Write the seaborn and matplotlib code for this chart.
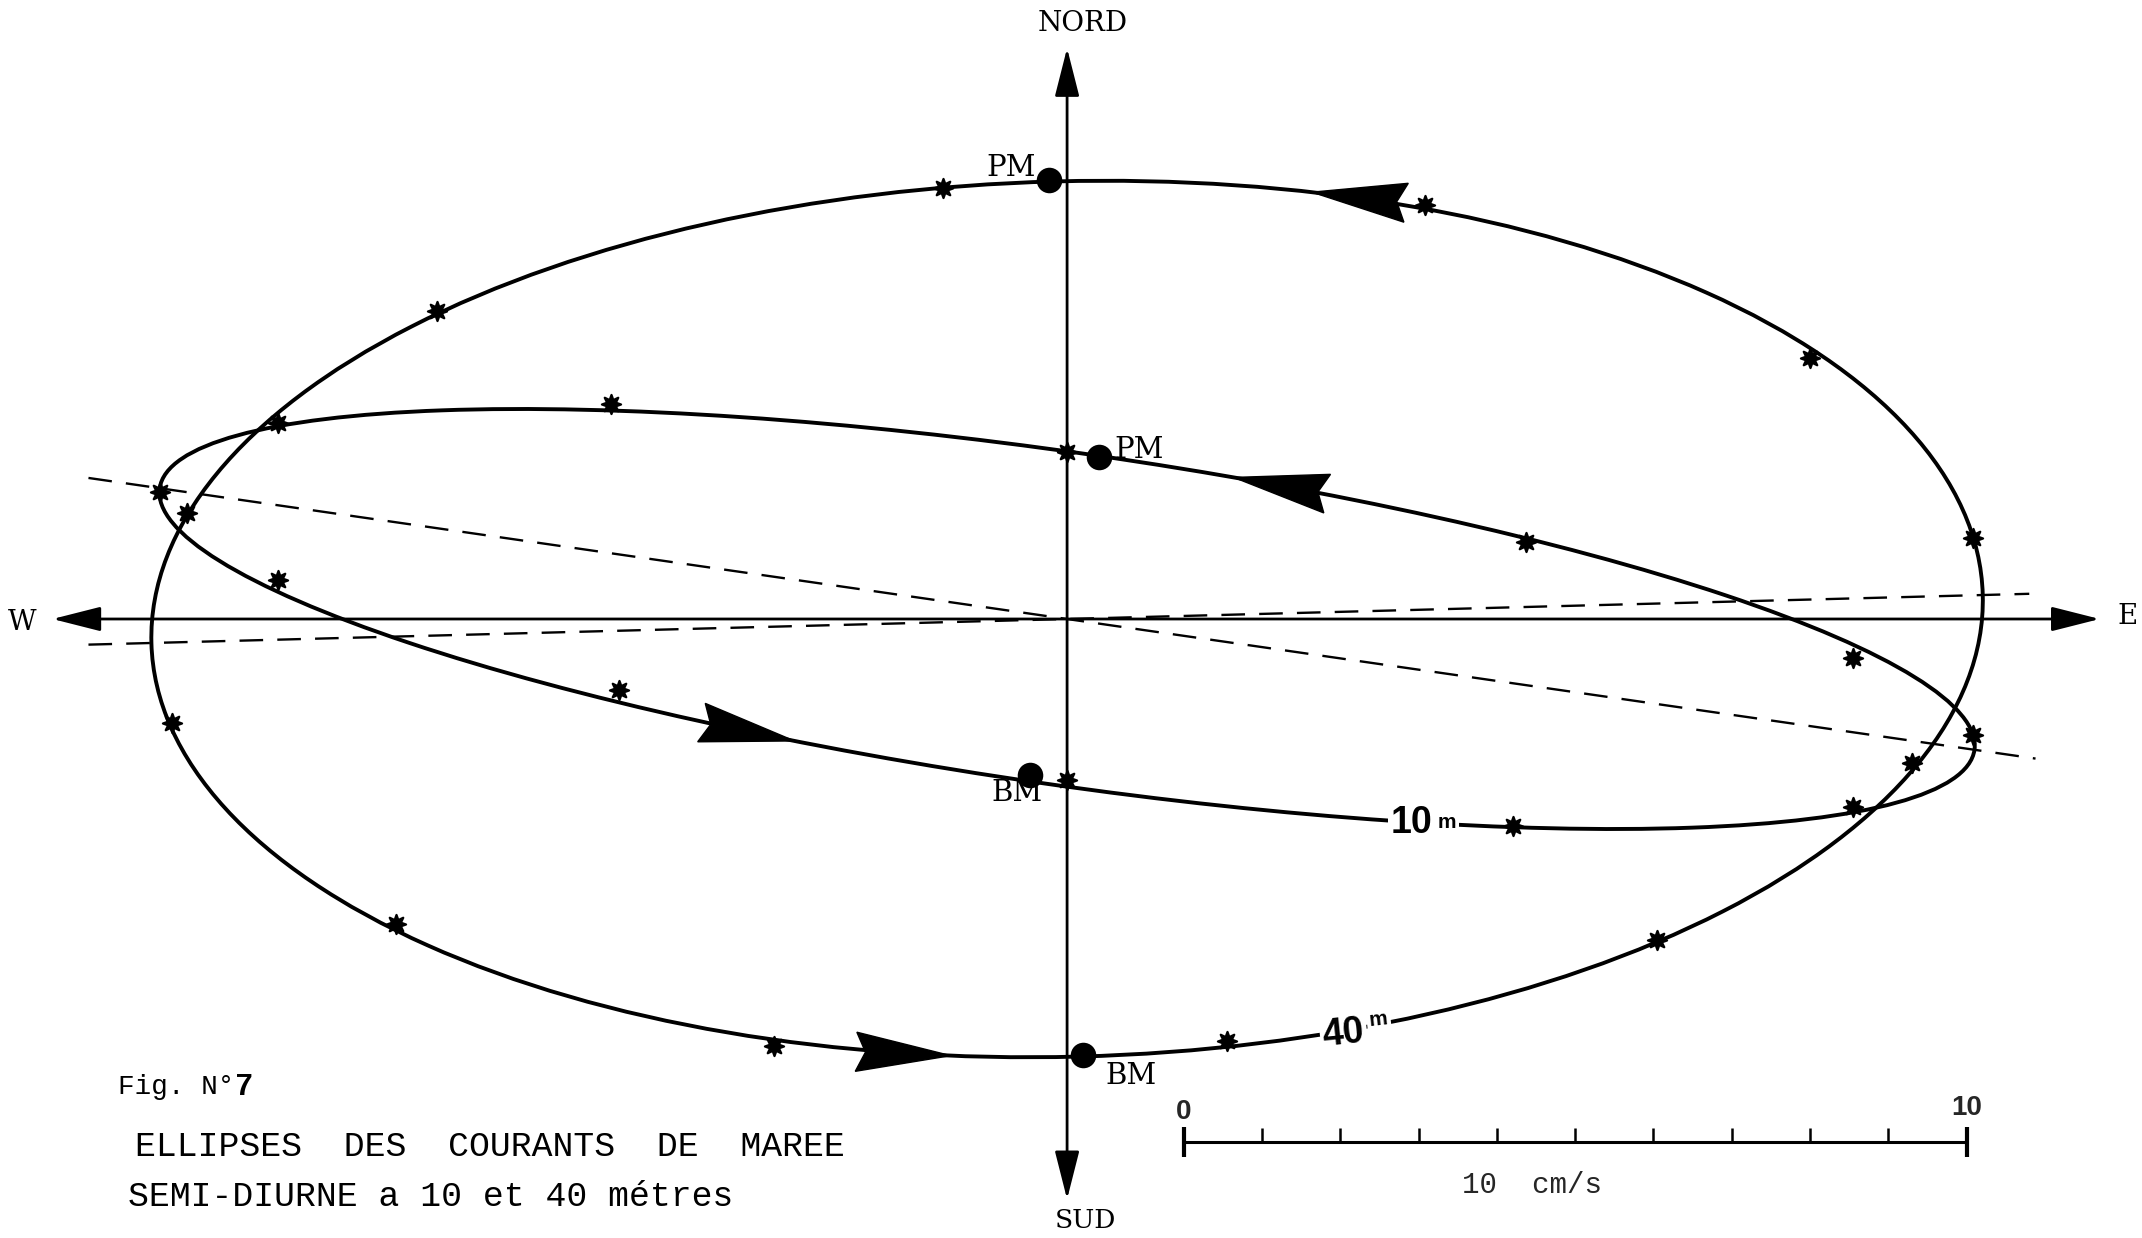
import numpy as np
import pandas as pd
import seaborn as sns
from matplotlib import pyplot as plt
from matplotlib.patches import Ellipse, Polygon

# tidal ellipse parameters (cm/s, degrees from east)
depths = ["10m", "40m"]
semi_major = [11.71, 11.70]
semi_minor = [2.12, 5.59]
inclination = [-8.2, 1.5]
# extent of the dashed major axis (east component, cm/s)
axis_from = [-12.5, -12.5]
axis_to = [12.37, 12.29]

# hourly current vectors, u east / v north (cm/s)
u_10m = [-11.58, -10.08, -5.83, 0.0, 5.86, 10.04, 11.57, 10.04, 5.69, 0.0, -5.72, -10.08]
v_10m = [1.62, 2.50, 2.74, 2.13, 0.98, -0.50, -1.48, -2.40, -2.64, -2.06, -0.91, 0.50]
u_40m = [-1.59, 4.57, 9.49, 11.57, 10.79, 7.54, 2.04, -3.75, -8.57, -11.43, -11.24, -8.05]
v_40m = [5.50, 5.29, 3.33, 1.03, -1.84, -4.10, -5.39, -5.45, -3.89, -1.33, 1.35, 3.93]

# high water (PM) and low water (BM) currents
pm_u = [0.41, -0.23]
pm_v = [2.07, 5.61]
bm_u = [-0.47, 0.20]
bm_v = [-1.99, -5.57]

# where the direction arrows sit (approx. tip), per depth
arrow_u = [[2.12, -3.31], [3.15, -1.49]]
arrow_v = [[1.80, -1.48], [5.49, -5.59]]

scale_ticks = [0, 1, 2, 3, 4, 5, 6, 7, 8, 9, 10]

hourly = pd.DataFrame({
    "u": u_10m + u_40m,
    "v": v_10m + v_40m,
    "depth": ["10m"] * len(u_10m) + ["40m"] * len(u_40m),
})
tides = pd.DataFrame({"u": pm_u + bm_u, "v": pm_v + bm_v})

sns.set_theme(style="white")
plt.rcParams["font.family"] = ["DejaVu Serif", "DejaVu Sans"]

fig = plt.figure(figsize=(21.42, 12.38), dpi=100)
ax = fig.add_axes([0, 0, 1, 1])
ax.set_xlim(-13.63, 13.73)
ax.set_ylim(-7.905, 7.905)
ax.set_axis_off()


def arrow_head(ax, a, b, ang, px, py, length=1.21, half=0.25, notch=0.12):
    th = np.deg2rad(ang)
    c, s = np.cos(th), np.sin(th)
    xr, yr = px * c + py * s, -px * s + py * c
    t = np.arctan2(yr / b, xr / a)
    ex, ey = a * np.cos(t), b * np.sin(t)
    tx, ty = -a * np.sin(t), b * np.cos(t)
    tip = np.array([ex * c - ey * s, ex * s + ey * c])
    d = np.array([tx * c - ty * s, tx * s + ty * c])
    d /= np.hypot(*d)
    nrm = np.array([-d[1], d[0]])
    pts = [tip,
           tip - length * d + half * nrm,
           tip - (length - notch) * d,
           tip - length * d - half * nrm]
    ax.add_patch(Polygon(pts, closed=True, fc="black", ec="black", lw=1, zorder=4))


# compass axes
arrow_kw = dict(arrowstyle="<|-|>,head_length=1.5,head_width=0.38", color="black",
                lw=2.0, shrinkA=0, shrinkB=0, mutation_scale=20)
ax.annotate("", xy=(0, 7.29), xytext=(0, -7.41), arrowprops=arrow_kw, zorder=2)
ax.annotate("", xy=(13.19, 0), xytext=(-12.96, 0), arrowprops=arrow_kw, zorder=2)

# ellipses, major axes, direction arrows
for i, dep in enumerate(depths):
    ax.add_patch(Ellipse((0, 0), 2 * semi_major[i], 2 * semi_minor[i], angle=inclination[i],
                         fill=False, ec="black", lw=2.8, zorder=3))
    k = np.tan(np.deg2rad(inclination[i]))
    ax.plot([axis_from[i], axis_to[i]], [axis_from[i] * k, axis_to[i] * k],
            color="black", lw=1.7, dashes=(10, 6), zorder=2)
    for px, py in zip(arrow_u[i], arrow_v[i]):
        arrow_head(ax, semi_major[i], semi_minor[i], inclination[i], px, py)

sns.scatterplot(data=hourly, x="u", y="v", marker=(8, 1, 0), s=190, color="black",
                edgecolor="black", linewidth=1.6, ax=ax, zorder=5, legend=False)
sns.scatterplot(data=tides, x="u", y="v", marker="o", s=290, color="black",
                edgecolor="black", ax=ax, zorder=5, legend=False)
ax.set_xlim(-13.63, 13.73)
ax.set_ylim(-7.905, 7.905)

# compass labels
lab = dict(ha="center", va="center", color="black")
ax.text(0.20, 7.61, "NORD", fontsize=20, **lab)
ax.text(0.24, -7.68, "SUD", fontsize=19, **lab)
ax.text(-13.35, -0.04, "W", fontsize=20, **lab)
ax.text(13.54, 0.03, "E", fontsize=20, **lab)
ax.text(-0.72, 5.76, "PM", fontsize=21, **lab)
ax.text(0.92, 2.16, "PM", fontsize=21, **lab)
ax.text(-0.64, -2.22, "BM", fontsize=21, **lab)
ax.text(0.82, -5.84, "BM", fontsize=21, **lab)

# depth labels cutting the curves
bold = dict(family="Liberation Sans", fontweight="bold", color="black", zorder=6,
            bbox=dict(fc="white", ec="none", pad=2))
ax.text(4.67, -2.73, "10", fontsize=27, ha="right", va="baseline", **bold)
ax.text(4.73, -2.67, "m", fontsize=15, ha="left", va="baseline", **bold)
ax.text(3.81, -5.40, "40", fontsize=27, ha="right", va="baseline", rotation=6,
        rotation_mode="anchor", **bold)
ax.text(3.87, -5.20, "m", fontsize=15, ha="left", va="baseline", rotation=6,
        rotation_mode="anchor", **bold)

# caption
mono = dict(family="Liberation Mono", color="black", va="center", ha="left")
ax.text(-12.12, -5.98, "Fig. N°", fontsize=20, **mono)
ax.text(-10.63, -5.98, "7", fontsize=22, fontweight="bold", **mono)
ax.text(-11.90, -6.74, "ELLIPSES  DES  COURANTS  DE  MAREE", fontsize=25, **mono)
ax.text(-12.00, -7.38, "SEMI-DIURNE a 10 et 40 métres", fontsize=25, **mono)

# velocity scale bar
x0, ybar = 1.49, -6.68
ax.plot([x0 + scale_ticks[0], x0 + scale_ticks[-1]], [ybar, ybar], color="black", lw=2.2, zorder=2)
ax.vlines([x0 + t for t in scale_ticks[1:-1]], ybar, ybar + 0.18, color="black", lw=1.8)
ax.vlines([x0 + scale_ticks[0], x0 + scale_ticks[-1]], ybar - 0.19, ybar + 0.19, color="black", lw=3)
ax.text(x0 + scale_ticks[0], -6.29, "0", family="Liberation Sans", fontweight="bold",
        fontsize=20, ha="center", va="center")
ax.text(x0 + scale_ticks[-1], -6.25, "10", family="Liberation Sans", fontweight="bold",
        fontsize=20, ha="center", va="center")
ax.text(5.94, -7.23, "10  cm/s", fontsize=21, family="Liberation Mono", ha="center", va="center")

fig.savefig("out.png", dpi=100, facecolor="white")
